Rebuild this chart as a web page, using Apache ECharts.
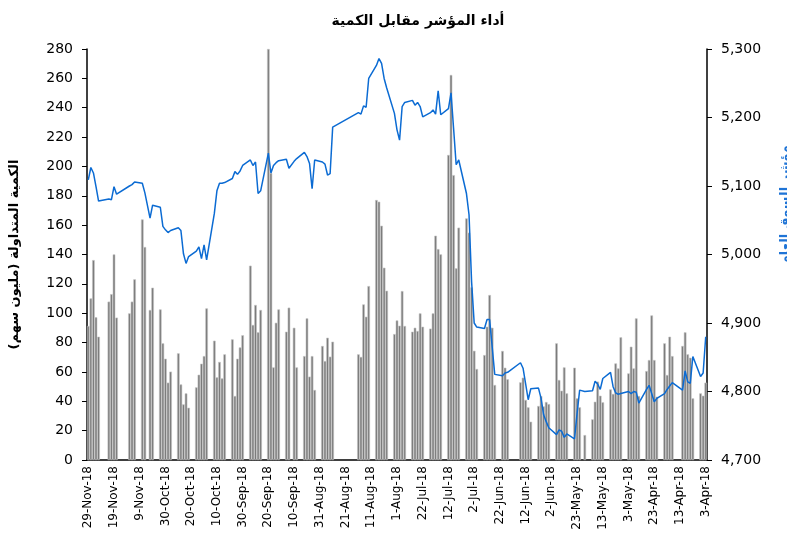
<!DOCTYPE html>
<html lang="ar">
<head>
<meta charset="UTF-8">
<title>أداء المؤشر مقابل الكمية</title>
<style>
  * { margin: 0; padding: 0; }
  body { background: #fff; }
  #chart { width: 787px; height: 535px; }
</style>
<script src="https://cdn.jsdelivr.net/npm/echarts@6/dist/echarts.min.js"></script>
</head>
<body>
<div id="chart"></div>
<script>
// trading days, newest first (as drawn from left to right)
var tradeDates = [
  '2018-11-29','2018-11-28','2018-11-27','2018-11-26','2018-11-25',
  '2018-11-21','2018-11-20','2018-11-19','2018-11-18',
  '2018-11-13','2018-11-12','2018-11-11',
  '2018-11-08','2018-11-07','2018-11-05','2018-11-04',
  '2018-11-01','2018-10-31','2018-10-30','2018-10-29','2018-10-28',
  '2018-10-25','2018-10-24','2018-10-23','2018-10-22','2018-10-21',
  '2018-10-18','2018-10-17','2018-10-16','2018-10-15','2018-10-14',
  '2018-10-11','2018-10-10','2018-10-09','2018-10-08','2018-10-07',
  '2018-10-04','2018-10-03','2018-10-02','2018-10-01','2018-09-30',
  '2018-09-27','2018-09-26','2018-09-25','2018-09-24','2018-09-23',
  '2018-09-20','2018-09-19','2018-09-18','2018-09-17','2018-09-16',
  '2018-09-13','2018-09-12','2018-09-10','2018-09-09',
  '2018-09-06','2018-09-05','2018-09-04','2018-09-03','2018-09-02',
  '2018-08-30','2018-08-29','2018-08-28','2018-08-27','2018-08-26',
  '2018-08-16','2018-08-15','2018-08-14','2018-08-13','2018-08-12',
  '2018-08-09','2018-08-08','2018-08-07','2018-08-06','2018-08-05',
  '2018-08-02','2018-08-01','2018-07-31','2018-07-30','2018-07-29',
  '2018-07-26','2018-07-25','2018-07-24','2018-07-23','2018-07-22',
  '2018-07-19','2018-07-18','2018-07-17','2018-07-16','2018-07-15',
  '2018-07-12','2018-07-11','2018-07-10','2018-07-09','2018-07-08',
  '2018-07-05','2018-07-04','2018-07-03','2018-07-02','2018-07-01',
  '2018-06-28','2018-06-27','2018-06-26','2018-06-25','2018-06-24',
  '2018-06-21','2018-06-20','2018-06-19',
  '2018-06-14','2018-06-13','2018-06-12','2018-06-11','2018-06-10',
  '2018-06-07','2018-06-06','2018-06-05','2018-06-04','2018-06-03',
  '2018-05-31','2018-05-30','2018-05-29','2018-05-28','2018-05-27',
  '2018-05-24','2018-05-23','2018-05-22','2018-05-20',
  '2018-05-17','2018-05-16','2018-05-15','2018-05-14','2018-05-13',
  '2018-05-10','2018-05-09','2018-05-08','2018-05-07','2018-05-06',
  '2018-05-03','2018-05-02','2018-05-01','2018-04-30','2018-04-29',
  '2018-04-26','2018-04-25','2018-04-24','2018-04-23','2018-04-22',
  '2018-04-19','2018-04-18','2018-04-17','2018-04-16',
  '2018-04-12','2018-04-11','2018-04-10','2018-04-09','2018-04-08',
  '2018-04-05','2018-04-04','2018-04-03'
];

// traded volume, million shares
var volume = [
  91.3, 110.1, 136.2, 97.2, 84.0,
  107.9, 113.0, 140.1, 97.0,
  99.9, 107.9, 123.1,
  163.9, 145.1, 102.2, 117.4,
  102.6, 79.5, 69.0, 52.7, 60.2,
  72.7, 51.5, 37.9, 45.4, 35.6,
  49.5, 58.1, 65.6, 70.8, 103.3,
  81.3, 56.3, 66.8, 55.6, 72.0,
  82.2, 43.6, 69.0, 76.7, 85.0,
  132.4, 92.0, 105.6, 87.0, 102.2,
  280, 195.5, 63.1, 93.5, 102.6,
  87.4, 103.8, 90.1, 63.1,
  70.8, 96.5, 56.8, 70.8, 47.7,
  77.7, 67.4, 83.3, 70.4, 80.6,
  72.0, 70.2, 106.0, 97.6, 118.5,
  177.1, 176.0, 159.6, 131.0, 115.3,
  85.8, 95.1, 91.5, 115.1, 91.3,
  87.4, 90.1, 87.9, 99.9, 90.8,
  89.5, 99.9, 152.8, 143.7, 140.1,
  207.8, 262.3, 194.1, 130.6, 158.3,
  164.6, 154.9, 117.6, 74.4, 62.0,
  71.5, 90.8, 112.4, 90.1, 51.1,
  74.3, 62.9, 55.0,
  52.9, 56.1, 40.9, 35.9, 26.1,
  36.8, 43.6, 36.5, 39.5, 38.1,
  79.5, 54.5, 47.2, 63.1, 45.4,
  62.9, 42.0, 35.9, 17.0,
  27.7, 39.7, 53.4, 43.8, 39.3,
  48.1, 45.0, 65.8, 62.4, 83.6,
  59.0, 77.2, 62.4, 96.5, 43.6,
  60.6, 68.1, 98.5, 68.1, 43.1,
  79.5, 57.9, 84.0, 70.8,
  77.7, 87.0, 72.0, 69.7, 42.0,
  45.4, 43.8, 52.7
];

// general market index
var marketIndex = [
  5109, 5127, 5119, 5099, 5078,
  5081, 5080, 5099, 5088,
  5100, 5102, 5106,
  5104, 5090, 5053, 5072,
  5069, 5041, 5036, 5032, 5035,
  5039, 5035, 5001, 4987, 4997,
  5005, 5011, 4994, 5014, 4992,
  5060, 5093, 5104, 5104, 5105,
  5111, 5121, 5117, 5122, 5130,
  5138, 5130, 5135, 5089, 5093,
  5148, 5119, 5130, 5134, 5137,
  5139, 5126, 5136, 5140,
  5149, 5143, 5133, 5096, 5138,
  5135, 5132, 5116, 5118, 5186,
  5207, 5205, 5217, 5215, 5257,
  5276, 5286, 5279, 5257, 5243,
  5206, 5182, 5167, 5216, 5222,
  5225, 5218, 5222, 5216, 5201,
  5207, 5211, 5205, 5239, 5204,
  5213, 5236, 5184, 5131, 5138,
  5089, 5058, 4960, 4900, 4894,
  4892, 4905, 4905, 4865, 4825,
  4823, 4827, 4828,
  4842, 4834, 4811, 4788, 4804,
  4805, 4790, 4766, 4756, 4747,
  4737, 4744, 4742, 4733, 4738,
  4731, 4768, 4802, 4800,
  4801, 4815, 4811, 4803, 4819,
  4828, 4807, 4798, 4796, 4797,
  4800, 4797, 4800, 4799, 4783,
  4803, 4809, 4797, 4785, 4790,
  4797, 4803, 4808, 4813,
  4802, 4830, 4814, 4812, 4851,
  4822, 4827, 4880
];

var firstDay = '2018-11-29';
var lastDay = '2018-04-03';
var monthNames = ['Jan','Feb','Mar','Apr','May','Jun','Jul','Aug','Sep','Oct','Nov','Dec'];

// every calendar day on the axis, newest first
var dayKeys = [];
var dayLabels = [];
var t = Date.parse(firstDay + 'T00:00:00Z');
var tEnd = Date.parse(lastDay + 'T00:00:00Z');
while (t >= tEnd) {
    var d = new Date(t);
    dayKeys.push(d.toISOString().slice(0, 10));
    dayLabels.push(d.getUTCDate() + '-' + monthNames[d.getUTCMonth()] + '-' + String(d.getUTCFullYear()).slice(2));
    t -= 86400000;
}

var volByDay = {}, idxByDay = {};
tradeDates.forEach(function (k, i) {
    volByDay[k] = volume[i];
    idxByDay[k] = marketIndex[i];
});
var volData = dayKeys.map(function (k) { return k in volByDay ? volByDay[k] : '-'; });
var idxData = dayKeys.map(function (k) { return k in idxByDay ? idxByDay[k] : null; });

var fontFamily = 'Tahoma, "DejaVu Sans", sans-serif';

var chart = echarts.init(document.getElementById('chart'));
var option = {
    animation: false,
    textStyle: { fontFamily: fontFamily },
    title: {
        text: 'أداء المؤشر مقابل الكمية',
        left: 413,
        top: 9,
        textAlign: 'center',
        textStyle: { fontSize: 14, fontWeight: 'bold', color: '#000', fontFamily: fontFamily }
    },
    grid: { left: 87, right: 80, top: 49, bottom: 75 },
    xAxis: {
        type: 'category',
        data: dayLabels,
        boundaryGap: true,
        axisLine: { lineStyle: { color: '#000', width: 1.5 } },
        axisTick: { interval: 9, alignWithLabel: true, length: 5, lineStyle: { color: '#000' } },
        axisLabel: {
            interval: 9,
            rotate: 90,
            margin: 6,
            fontSize: 12,
            color: '#000',
            fontFamily: fontFamily
        },
        splitLine: { show: false }
    },
    yAxis: [{
        type: 'value',
        min: 0,
        max: 280,
        interval: 20,
        name: 'الكمية المتداولة (مليون سهم)',
        nameLocation: 'middle',
        nameRotate: 90,
        nameGap: 66,
        nameTextStyle: { fontSize: 13, fontWeight: 'bold', color: '#000', fontFamily: fontFamily },
        axisLine: { show: true, lineStyle: { color: '#000', width: 1.5 } },
        axisTick: { show: true, length: 5, lineStyle: { color: '#000' } },
        axisLabel: { fontSize: 14, color: '#000', margin: 14, fontFamily: fontFamily },
        splitLine: { show: false }
    }, {
        type: 'value',
        min: 4700,
        max: 5300,
        interval: 100,
        position: 'right',
        axisLine: { show: true, lineStyle: { color: '#000', width: 1.5 } },
        axisTick: { show: true, length: 5, lineStyle: { color: '#000' } },
        axisLabel: {
            fontSize: 14,
            color: '#000',
            margin: 14,
            fontFamily: fontFamily,
            formatter: function (v) { return v.toLocaleString('en-US'); }
        },
        splitLine: { show: false }
    }],
    graphic: [{
        type: 'text',
        x: 786,
        y: 205,
        rotation: Math.PI / 2,
        style: {
            text: 'مؤشر السوق العام',
            fill: '#1f74d6',
            font: 'bold 13px ' + fontFamily,
            align: 'center',
            verticalAlign: 'middle'
        }
    }],
    series: [{
        name: 'الكمية',
        type: 'bar',
        data: volData,
        barWidth: '100%',
        itemStyle: { color: '#7a7a7a', borderColor: '#c4c4c4', borderWidth: 0.6 }
    }, {
        name: 'المؤشر',
        type: 'line',
        yAxisIndex: 1,
        data: idxData,
        connectNulls: true,
        symbol: 'none',
        lineStyle: { color: '#0b6bd3', width: 1.5 },
        z: 3
    }]
};
chart.setOption(option);
</script>
</body>
</html>
